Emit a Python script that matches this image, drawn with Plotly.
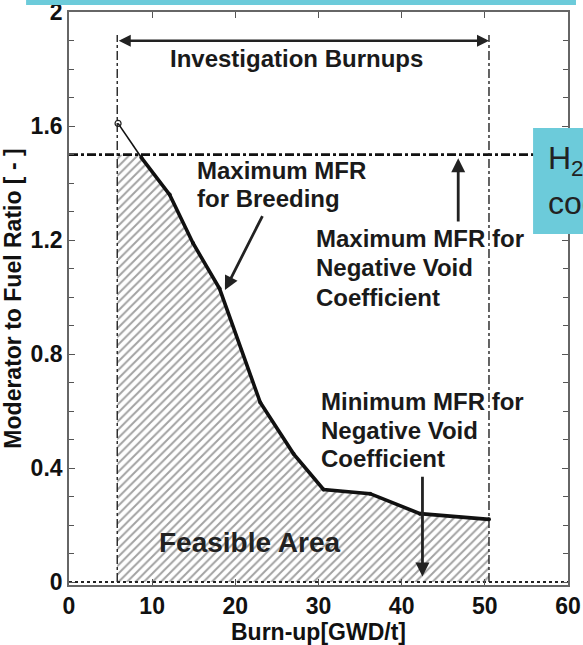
import plotly.graph_objects as go

# Boundary curve: maximum moderator-to-fuel ratio for breeding vs. burn-up
burnup = [5.9, 8.7, 12.1, 14.9, 18.1, 23.0, 27.0, 30.6, 36.2, 42.2, 50.5]
mfr_max_breeding = [1.61, 1.49, 1.36, 1.19, 1.03, 0.63, 0.45, 0.325, 0.31, 0.24, 0.22]

# Limits
investigation_range = [5.8, 50.5]
mfr_max_void = 1.5
mfr_min_void = 0.0

# Axis ticks
x_ticks = [0, 10, 20, 30, 40, 50, 60]
y_ticks = [0, 0.4, 0.8, 1.2, 1.6, 2.0]
y_tick_text = ["0", "0.4", "0.8", "1.2", "1.6", "2"]

FONT = "Liberation Sans"
CYAN = "rgb(108,203,218)"

# Feasible region: below the breeding curve, capped by the void-coefficient limit
x0, y0 = burnup[0], mfr_max_breeding[0]
x1, y1 = burnup[1], mfr_max_breeding[1]
x_cross = x0 + (y0 - mfr_max_void) / (y0 - y1) * (x1 - x0)
fill_x = [investigation_range[0], investigation_range[0], x_cross] + burnup[1:] + [investigation_range[1], investigation_range[0]]
fill_y = [mfr_min_void, mfr_max_void, mfr_max_void] + mfr_max_breeding[1:] + [mfr_min_void, mfr_min_void]

fig = go.Figure()

fig.add_trace(go.Scatter(
    x=fill_x, y=fill_y, mode="lines", line=dict(width=0),
    fill="toself", fillcolor="white",
    fillpattern=dict(shape="/", fgcolor="#454545", bgcolor="white", size=6, solidity=0.33),
    hoverinfo="skip", showlegend=False,
))

# Zero line (minimum MFR)
fig.add_trace(go.Scatter(
    x=[0, 60], y=[mfr_min_void, mfr_min_void], mode="lines",
    line=dict(color="#222", width=2.2, dash="dot"), showlegend=False,
))

# Maximum MFR for negative void coefficient
fig.add_trace(go.Scatter(
    x=[0, 60], y=[mfr_max_void, mfr_max_void], mode="lines",
    line=dict(color="#111", width=2.8, dash="dashdot"), showlegend=False,
))

# Investigation burn-up bounds
for xb in investigation_range:
    fig.add_trace(go.Scatter(
        x=[xb, xb], y=[0, 1.92], mode="lines",
        line=dict(color="#222", width=1.4, dash="dashdot"), showlegend=False,
    ))

# Breeding limit curve: thin above the void limit, heavy below
fig.add_trace(go.Scatter(
    x=burnup[:2], y=mfr_max_breeding[:2], mode="lines",
    line=dict(color="#111", width=1.6), showlegend=False,
))
fig.add_trace(go.Scatter(
    x=burnup[:1], y=mfr_max_breeding[:1], mode="markers",
    marker=dict(symbol="circle-open", size=6, color="#222", line=dict(width=1.2)),
    showlegend=False,
))
fig.add_trace(go.Scatter(
    x=burnup[1:], y=mfr_max_breeding[1:], mode="lines+markers",
    line=dict(color="#111", width=3.6),
    marker=dict(size=4, color="#111"), showlegend=False,
))

ann_font = dict(family=FONT, size=24, color="#1a1a1a", weight="bold")


def text_lines(x, ys, lines):
    for y, t in zip(ys, lines):
        fig.add_annotation(x=x, y=y, xref="x", yref="y", text=t, showarrow=False,
                           font=ann_font, xanchor="left", yanchor="middle")


def arrow(tail, head, width=2.8):
    fig.add_annotation(
        x=head[0], y=head[1], ax=tail[0], ay=tail[1],
        xref="x", yref="y", axref="x", ayref="y",
        text="", showarrow=True, arrowhead=2, arrowsize=1, arrowwidth=width, arrowcolor="#222",
    )


# Investigation burnups double arrow
fig.add_annotation(
    x=investigation_range[1], y=1.9, ax=investigation_range[0], ay=1.9,
    xref="x", yref="y", axref="x", ayref="y",
    text="", showarrow=True, arrowhead=2, startarrowhead=2, arrowside="end+start",
    arrowsize=1, arrowwidth=2.4, arrowcolor="#222",
)
fig.add_annotation(x=27.4, y=1.839, xref="x", yref="y", text="Investigation Burnups",
                   showarrow=False, font=ann_font, xanchor="center", yanchor="middle")

text_lines(15.2, [1.446, 1.347], ["Maximum MFR", "for Breeding"])
arrow((23.35, 1.29), (18.75, 1.025))

text_lines(29.5, [1.207, 1.105, 1.0], ["Maximum MFR for", "Negative Void", "Coefficient"])
arrow((46.8, 1.26), (46.8, 1.488))

text_lines(30.1, [0.633, 0.533, 0.435], ["Minimum MFR for", "Negative Void", "Coefficient"])
arrow((42.5, 0.375), (42.5, 0.019))

fig.add_annotation(x=21.7, y=0.137, xref="x", yref="y", text="Feasible Area",
                   showarrow=False, font=dict(family=FONT, size=28, color="#222", weight="bold"),
                   xanchor="center", yanchor="middle")

# Highlight banner and callout box
fig.add_shape(type="rect", xref="paper", yref="paper", x0=-0.086, x1=1.016, y0=1.012, y1=1.05,
              fillcolor=CYAN, line=dict(width=0), layer="above")
fig.add_shape(type="rect", xref="paper", yref="paper", x0=0.93, x1=1.1, y0=0.6126, y1=0.7976,
              fillcolor=CYAN, line=dict(width=0), layer="above")
callout_font = dict(family=FONT, size=32, color="#222")
fig.add_annotation(xref="paper", yref="paper", x=0.956, y=0.7417, text="H<sub>2</sub>O",
                   showarrow=False, xanchor="left", yanchor="middle", font=callout_font)
fig.add_annotation(xref="paper", yref="paper", x=0.956, y=0.6667, text="coolant",
                   showarrow=False, xanchor="left", yanchor="middle", font=callout_font)

axis_common = dict(
    showgrid=False, zeroline=False, showline=True, linecolor="#666", linewidth=1.6,
    mirror="ticks", ticks="inside", ticklen=6, tickwidth=1.4, tickcolor="#555",
    tickfont=dict(family=FONT, size=23, color="#111", weight="bold"),
    automargin=False, ticklabeloverflow="allow",
)

fig.update_xaxes(
    range=[0, 60], tickvals=x_ticks, ticktext=[str(v) for v in x_ticks],
    title=dict(text="Burn-up[GWD/t]", font=dict(family=FONT, size=23, color="#111", weight="bold"), standoff=2),
    **axis_common,
)
fig.update_yaxes(
    range=[-0.0105, 2.001], tickvals=y_ticks, ticktext=y_tick_text,
    minor=dict(dtick=0.1, ticks="inside", ticklen=5, tickcolor="#555", tickwidth=1.2),
    title=dict(text="Moderator to Fuel Ratio [ - ]", font=dict(family=FONT, size=23, color="#111", weight="bold"), standoff=3),
    **axis_common,
)

fig.update_layout(
    width=583, height=645,
    margin=dict(l=69, r=15, t=12, b=60),
    paper_bgcolor="white", plot_bgcolor="white",
    showlegend=False,
)

fig.write_html("out.html")
